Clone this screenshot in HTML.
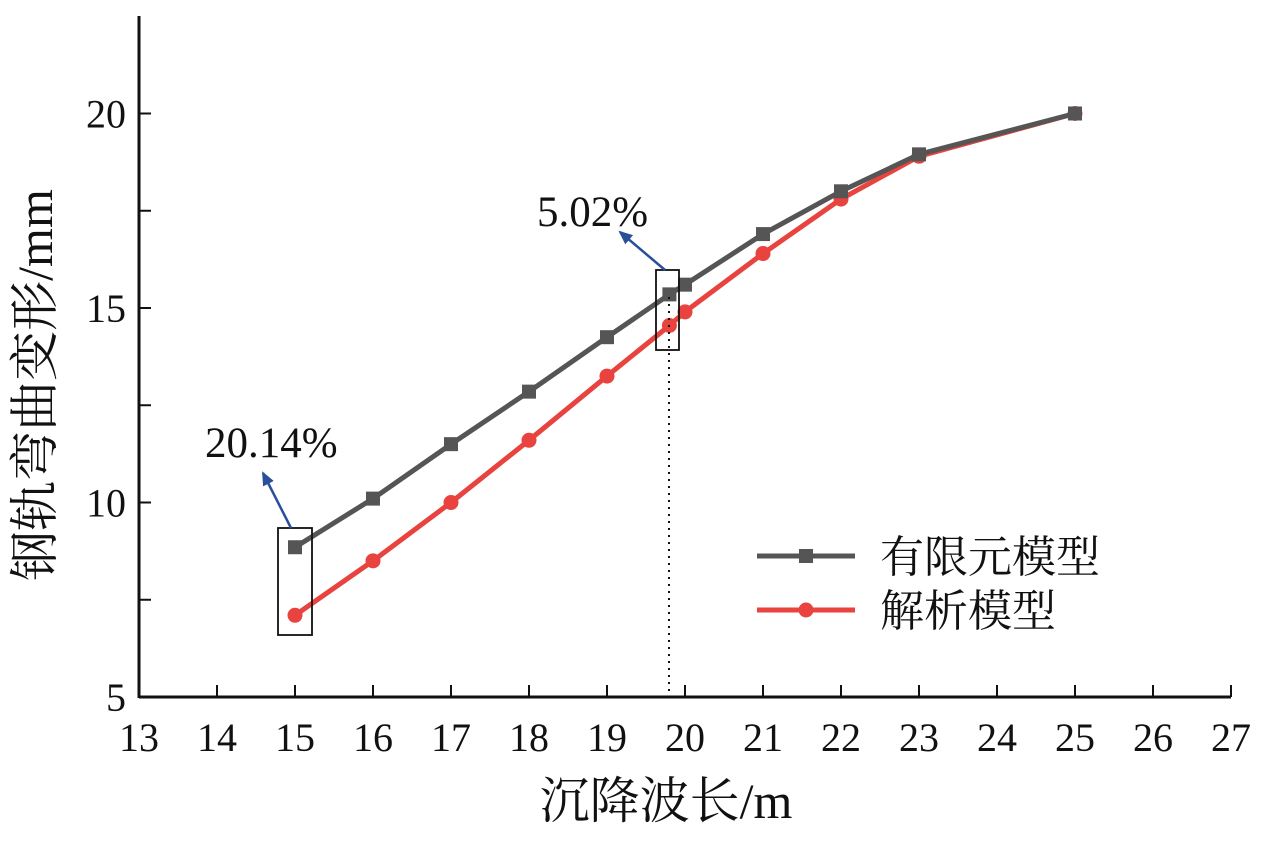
<!DOCTYPE html>
<html><head><meta charset="utf-8"><style>
html,body{margin:0;padding:0;background:#fff}
svg text{font-family:"Liberation Serif","Noto Serif CJK SC",serif;fill:#111}
</style></head><body>
<svg id="chart" width="1261" height="836" viewBox="0 0 1261 836" xmlns="http://www.w3.org/2000/svg">
<defs><marker id="ah" markerWidth="14" markerHeight="12" refX="12" refY="6" orient="auto" markerUnits="userSpaceOnUse"><path d="M0,0 L14,6 L0,12 z" fill="#2a4f9a"/></marker></defs>
<g id="axes"></g>
<g id="marks"></g>
<g>
<rect x="278" y="528" width="34" height="107" fill="none" stroke="#111" stroke-width="1.8"/>
<line x1="291" y1="528" x2="263" y2="473" stroke="#2a4f9a" stroke-width="2.5" marker-end="url(#ah)"/>
<text x="205" y="457" font-size="43">20.14%</text>
</g>
<g>
<rect x="656" y="270" width="23" height="80" fill="none" stroke="#111" stroke-width="1.8"/>
<line x1="669" y1="297" x2="669" y2="697" stroke="#111" stroke-width="2" stroke-dasharray="2,5"/>
<line x1="665" y1="270" x2="620" y2="232" stroke="#2a4f9a" stroke-width="2.5" marker-end="url(#ah)"/>
<text x="537" y="226" font-size="43">5.02%</text>
</g>
<g>
<g>
<line x1="757" y1="556" x2="855" y2="556" stroke="#555" stroke-width="5"/>
<rect x="799" y="549" width="14" height="14" fill="#555"/>
<text x="880" y="572" font-size="44">有限元模型</text></g>
<g>
<line x1="757" y1="610" x2="855" y2="610" stroke="#e8433e" stroke-width="5"/>
<circle cx="806" cy="610" r="7.5" fill="#e8433e"/>
<text x="880" y="626" font-size="44">解析模型</text></g>
</g>
<text x="666" y="818" font-size="50" text-anchor="middle">沉降波长/m</text>
<text transform="translate(52,385) rotate(-90)" font-size="50" text-anchor="middle">钢轨弯曲变形/mm</text>
</svg>
<script>
const xs = [15,16,17,18,19,19.8,20,21,22,23,25];
const femValues = [8.85,10.1,11.5,12.85,14.25,15.35,15.6,16.9,18.0,18.95,20.0];
const anaValues = [7.1,8.5,10.0,11.6,13.25,14.55,14.9,16.4,17.8,18.9,20.0];
const xTicks = [13,14,15,16,17,18,19,20,21,22,23,24,25,26,27];
const yTicks = [5,10,15,20];
const yMinor = [7.5,12.5,17.5];
const NS='http://www.w3.org/2000/svg';
const X=v=>139+(v-13)*78;
const Y=v=>697-(v-5)*38.9;
function mk(tag,attrs,parent){const e=document.createElementNS(NS,tag);for(const k in attrs)e.setAttribute(k,attrs[k]);parent.appendChild(e);return e;}
const ax=document.getElementById('axes'), mg=document.getElementById('marks');
let l=mk('line',{x1:139,y1:697,x2:1231,y2:697,stroke:'#111','stroke-width':3},ax);


l=mk('line',{x1:139,y1:16,x2:139,y2:698,stroke:'#111','stroke-width':3},ax);


xTicks.forEach(t=>{
  const tk=mk('line',{x1:X(t),y1:697,x2:X(t),y2:685,stroke:'#111','stroke-width':2},ax);
  
  
  const tx=mk('text',{x:X(t),y:751,'font-size':40,'text-anchor':'middle'},ax);tx.textContent=t;
  
  
});
yTicks.concat(yMinor).forEach(t=>{
  const tk=mk('line',{x1:139,y1:Y(t),x2:151,y2:Y(t),stroke:'#111','stroke-width':2},ax);
  
  
});
yTicks.forEach(t=>{
  const tx=mk('text',{x:126,y:Y(t)+14,'font-size':40,'text-anchor':'end'},ax);tx.textContent=t;
  
  
});
function series(vals,color,shape,name){
  const g=mk('g',{},mg);
  
  
  mk('polyline',{points:xs.map((x,i)=>X(x)+','+Y(vals[i])).join(' '),fill:'none',stroke:color,'stroke-width':5,'stroke-linejoin':'round'},g);
  xs.forEach((x,i)=>{
    let p;
    if(shape==='sq')p=mk('rect',{x:X(x)-7,y:Y(vals[i])-7,width:14,height:14,fill:color},g);
    else p=mk('circle',{cx:X(x),cy:Y(vals[i]),r:7.5,fill:color},g);
    
    
  });
}
series(anaValues,'#e8433e','c','series-analytic');
series(femValues,'#555555','sq','series-fem');
</script>
</body></html>
